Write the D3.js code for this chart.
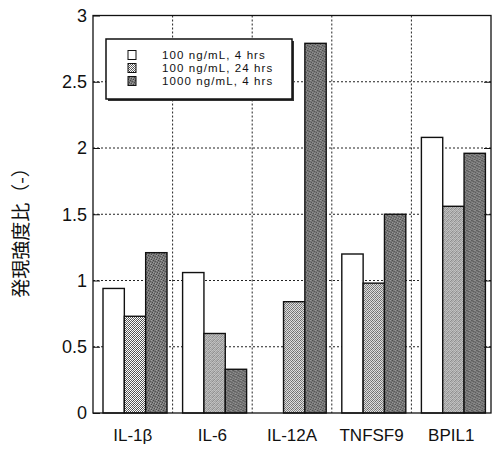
<!DOCTYPE html>
<html><head><meta charset="utf-8">
<script src="https://cdn.jsdelivr.net/npm/d3@7"></script>
<style>body{margin:0;background:#fff}svg{display:block}</style>
</head><body>
<script>
const categories = ["IL-1β","IL-6","IL-12A","TNFSF9","BPIL1"];
const seriesNames = ["100 ng/mL, 4 hrs","100 ng/mL, 24 hrs","1000 ng/mL, 4 hrs"];
const s100_4h  = [0.94, 1.06, 0.00, 1.20, 2.08];
const s100_24h = [0.73, 0.60, 0.84, 0.98, 1.56];
const s1000_4h = [1.21, 0.33, 2.79, 1.50, 1.96];
const yTicks = [0, 0.5, 1, 1.5, 2, 2.5, 3];
const yTickLabels = ["0","0.5","1","1.5","2","2.5","3"];
const yTitle = "発現強度比（-）";

const W = 496, H = 449;
const L = 93, R = 491, T = 15.5, B = 413;
const svg = d3.select("body").append("svg").attr("width", W).attr("height", H);
const defs = svg.append("defs");

const p1 = defs.append("pattern").attr("id","checker").attr("patternUnits","userSpaceOnUse").attr("width",4).attr("height",4);
p1.append("rect").attr("width",4).attr("height",4).attr("fill","#fff");
[[0,0],[2,0],[1,1],[3,1],[0,2],[2,2],[1,3],[3,3]].forEach(([x,y],i)=>{
  p1.append("rect").attr("x",x).attr("y",y).attr("width",1).attr("height",1).attr("fill", i%3===0?"#444":"#666");
});
const p2 = defs.append("pattern").attr("id","dark").attr("patternUnits","userSpaceOnUse").attr("width",5).attr("height",5);
p2.append("rect").attr("width",5).attr("height",5).attr("fill","#7a7a7a");
[[0,0,"#444"],[2,1,"#555"],[4,2,"#4a4a4a"],[1,3,"#505050"],[3,4,"#444"],[3,0,"#a0a0a0"],[0,2,"#9a9a9a"],[2,3,"#a5a5a5"],[4,4,"#909090"],[1,1,"#6a6a6a"]].forEach(([x,y,c])=>{
  p2.append("rect").attr("x",x).attr("y",y).attr("width",1).attr("height",1).attr("fill",c);
});
const fills = ["#fff","url(#checker)","url(#dark)"];

const x0 = d3.scaleBand().domain(categories).range([L, R]).padding(0);
const x1 = d3.scaleBand().domain(seriesNames).range([10, 74]).padding(0);
const y = d3.scaleLinear().domain([0, 3]).range([B, T]);

const g = svg.append("g");
g.selectAll(".hg").data(yTicks.filter(v=>v>0 && v<3)).enter().append("line")
  .attr("x1", L).attr("x2", R).attr("y1", d=>y(d)).attr("y2", d=>y(d))
  .attr("stroke","#222").attr("stroke-width",1).attr("stroke-dasharray","2,2");
g.selectAll(".vg").data(categories.slice(1)).enter().append("line")
  .attr("x1", d=>x0(d)).attr("x2", d=>x0(d)).attr("y1", T).attr("y2", B)
  .attr("stroke","#222").attr("stroke-width",1).attr("stroke-dasharray","2,2");

const data = categories.map((c,i)=>({cat:c, vals:[s100_4h[i], s100_24h[i], s1000_4h[i]]}));
const grp = svg.append("g").selectAll("g").data(data).enter().append("g")
  .attr("transform", d=>`translate(${x0(d.cat)},0)`);
grp.selectAll("rect").data(d=>d.vals.map((v,j)=>({v, j}))).enter()
  .filter(d=>d.v>0).append("rect")
  .attr("x", d=>x1(seriesNames[d.j])).attr("width", x1.bandwidth())
  .attr("y", d=>y(d.v)).attr("height", d=>B - y(d.v))
  .attr("fill", d=>fills[d.j]).attr("stroke","#111").attr("stroke-width",1.4);

svg.append("rect").attr("x",L).attr("y",T).attr("width",R-L).attr("height",B-T)
  .attr("fill","none").attr("stroke","#111").attr("stroke-width",1.3);

const yAxis = d3.axisLeft(y).tickValues(yTicks).tickFormat((d,i)=>yTickLabels[i]).tickSizeInner(-7).tickSizeOuter(0).tickPadding(6);
const ya = svg.append("g").attr("transform",`translate(${L},0)`).call(yAxis);
ya.select(".domain").remove();
ya.selectAll("line").attr("stroke","#111");
ya.selectAll("text").attr("font-family","'Liberation Sans',Arial,sans-serif").attr("font-size",18).attr("fill","#111");
const ya2 = svg.append("g").attr("transform",`translate(${R},0)`).call(d3.axisRight(y).tickValues(yTicks.filter(v=>v>0&&v<3)).tickSizeInner(-7).tickSizeOuter(0).tickFormat(""));
ya2.select(".domain").remove();
ya2.selectAll("line").attr("stroke","#111");

const xa = svg.append("g").attr("transform",`translate(0,${B})`).call(d3.axisBottom(x0).tickSize(0).tickPadding(16));
xa.select(".domain").remove();
xa.selectAll("text").attr("font-family","'Liberation Sans',Arial,sans-serif").attr("font-size",17).attr("fill","#111");

svg.append("text").attr("transform","translate(28,228) rotate(-90)").attr("text-anchor","middle")
  .attr("font-family","'Noto Sans CJK JP',sans-serif").attr("font-size",19).attr("fill","#111").text(yTitle);

const lg = svg.append("g");
lg.append("rect").attr("x",108).attr("y",41).attr("width",186).attr("height",60).attr("fill","#333");
lg.append("rect").attr("x",106).attr("y",39).attr("width",186).attr("height",60).attr("fill","#fff").attr("stroke","#111").attr("stroke-width",1.5);
seriesNames.forEach((s,i)=>{
  const yy = 55 + i*13;
  lg.append("rect").attr("x",128).attr("y",yy-4.5).attr("width",8).attr("height",9)
    .attr("fill",fills[i]).attr("stroke","#111").attr("stroke-width",1);
  lg.append("text").attr("x",162).attr("y",yy).attr("dy","0.35em")
    .attr("font-family","'Liberation Sans',Arial,sans-serif").attr("font-size",11.5).attr("letter-spacing",1.1).attr("fill","#111").text(s);
});
</script>
</body></html>
